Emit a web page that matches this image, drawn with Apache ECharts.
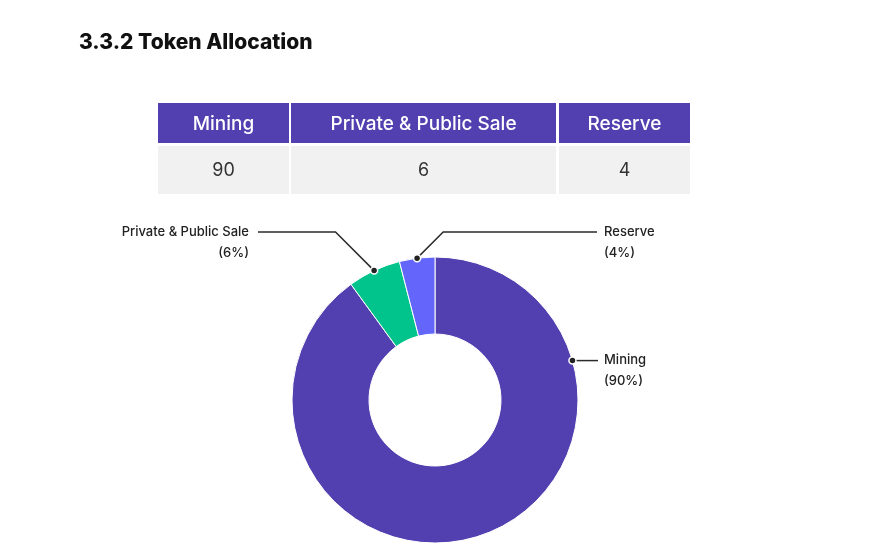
<!DOCTYPE html>
<html>
<head>
<meta charset="utf-8">
<script src="https://cdn.jsdelivr.net/npm/echarts@6/dist/echarts.min.js"></script>
<style>
  html, body { margin: 0; padding: 0; background: #fff; }
  #chart { width: 869px; height: 545px; }
</style>
</head>
<body>
<div id="chart"></div>
<script>
// data
const titleText = "3.3.2 Token Allocation";
const categories = ["Mining", "Private & Public Sale", "Reserve"];
const values = [90, 6, 4];
const colors = ["#5340b0", "#00c48c", "#6466fb"];

// layout
const FONT = "Inter";
const CX = 435, CY = 400, R_IN = 66, R_OUT = 143;
const LABEL_LINE_Y = 232;
const MINING_ANCHOR_DEG = 74; // mining label sits off its mid angle in the original
const colX = [158, 291, 559];
const colW = [131, 265, 131];

const total = values.reduce((a, b) => a + b, 0);

// angle (deg, clockwise from 12 o'clock) where each label line starts
function anchorAngle(i) {
  if (i === 0) return MINING_ANCHOR_DEG;
  let start = 0;
  for (let k = 0; k < i; k++) start += values[k];
  return (start + values[i] / 2) / total * 360;
}
function anchorPoint(i) {
  const a = anchorAngle(i) * Math.PI / 180;
  return [CX + R_OUT * Math.sin(a), CY - R_OUT * Math.cos(a)];
}

const tableGraphics = [];
categories.forEach((name, i) => {
  tableGraphics.push({
    type: "rect",
    shape: { x: colX[i], y: 103, width: colW[i], height: 40 },
    style: { fill: "#5340b0" }
  });
  tableGraphics.push({
    type: "text",
    x: colX[i] + colW[i] / 2, y: 124,
    style: { text: name, fill: "#fff", font: "500 19px " + FONT, align: "center", verticalAlign: "middle" }
  });
  tableGraphics.push({
    type: "rect",
    shape: { x: colX[i], y: 146, width: colW[i], height: 48 },
    style: { fill: "#f1f1f1" }
  });
  tableGraphics.push({
    type: "text",
    x: colX[i] + colW[i] / 2, y: 171,
    style: { text: String(values[i]), fill: "#333", font: "18px " + FONT, align: "center", verticalAlign: "middle" }
  });
});

const dotGraphics = values.map((v, i) => {
  const p = anchorPoint(i);
  return {
    type: "circle",
    z: 100,
    shape: { cx: p[0], cy: p[1], r: 3.5 },
    style: { fill: "#222", stroke: "#fff", lineWidth: 1.5 }
  };
});

const chart = echarts.init(document.getElementById("chart"));
chart.setOption({
  animation: false,
  title: {
    text: titleText,
    left: 74, top: 27,
    textStyle: { fontFamily: FONT, fontWeight: 800, fontSize: 21, color: "#111" }
  },
  graphic: tableGraphics.concat(dotGraphics),
  series: [{
    type: "pie",
    center: [CX, CY],
    radius: [R_IN, R_OUT],
    startAngle: 90,
    clockwise: true,
    data: categories.map((name, i) => ({ name, value: values[i], itemStyle: { color: colors[i] } })),
    itemStyle: { borderColor: "#fff", borderWidth: 1 },
    emphasis: { disabled: true },
    label: {
      show: true,
      position: "outside",
      formatter: "{b}\n({d}%)",
      fontFamily: FONT,
      fontSize: 13,
      fontWeight: 500,
      lineHeight: 21,
      color: "#222"
    },
    labelLine: { show: true, lineStyle: { color: "#2b2b2b", width: 1.5 } },
    labelLayout: function (params) {
      const i = params.dataIndex;
      const p = anchorPoint(i);
      if (i === 0) {
        return {
          x: 604, y: p[1] - 10.5, align: "left", verticalAlign: "top",
          labelLinePoints: [p, [p[0] + 13, p[1]], [598, p[1]]]
        };
      }
      const up = p[1] - LABEL_LINE_Y;
      if (i === 1) {
        return {
          x: 249, y: LABEL_LINE_Y - 10.5, align: "right", verticalAlign: "top",
          labelLinePoints: [p, [p[0] - up, LABEL_LINE_Y], [258, LABEL_LINE_Y]]
        };
      }
      return {
        x: 604, y: LABEL_LINE_Y - 10.5, align: "left", verticalAlign: "top",
        labelLinePoints: [p, [p[0] + up, LABEL_LINE_Y], [597, LABEL_LINE_Y]]
      };
    }
  }]
});
</script>
</body>
</html>
